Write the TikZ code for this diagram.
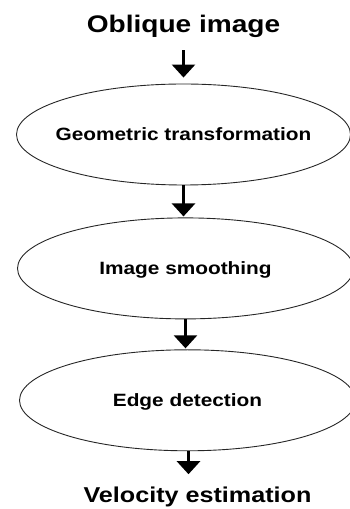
\documentclass[tikz,border=0pt]{standalone}
\usepackage{fontspec}
\setmainfont[FakeStretch=1.17]{Liberation Sans}
\usepackage{xcolor}
\usetikzlibrary{arrows.meta,positioning,shapes.geometric}
\definecolor{ink}{HTML}{000000}
\definecolor{rim}{HTML}{262626}
\tikzset{
  stagebox/.style={
    ellipse, draw=rim, line width=0.9pt,
    minimum width=#1, minimum height=101pt,
    font=\fontsize{17.8}{20}\selectfont\bfseries,
    text height=12.8pt, text depth=0pt, inner ysep=0pt, inner xsep=-50pt
  },
  stagebox/.default=334pt,
  endlabel/.style={
    font=\fontsize{#1}{#1}\selectfont\bfseries, color=ink,
    anchor=base, inner sep=0pt
  },
  endlabel/.default=24,
  flowarrow/.style={
    -{Triangle[width=23pt,length=13pt]}, line width=2.6pt, color=ink
  },
}
\begin{document}
\begin{tikzpicture}
\useasboundingbox (0,0) rectangle (350pt,509pt);
\node[stagebox=334pt] (geo) at (183.5pt,374.5pt) {Geometric transformation};
\node[stagebox=336pt, below=32pt of geo, xshift=2pt] (smooth) {Image smoothing};
\node[stagebox=336pt, below=30pt of smooth, xshift=2pt] (edge) {Edge detection};
\node[endlabel=24] (oblique) at (183.5pt,476pt) {Oblique image};
\node[endlabel=21.5] (velocity) at (197.5pt,6pt) {Velocity estimation};
% arrows between stages
\draw[flowarrow, shorten <=12pt, shorten >=6pt] (oblique.south) -- (oblique.south |- geo.north);
\draw[flowarrow, shorten >=1pt] (geo.south) -- (geo.south |- smooth.north);
\draw[flowarrow, shorten >=1pt] (smooth.south) -- (smooth.south |- edge.north);
\draw[flowarrow, shorten >=13pt] ([xshift=1pt]edge.south) -- ([xshift=1pt]edge.south |- velocity.north);
\end{tikzpicture}
\end{document}
